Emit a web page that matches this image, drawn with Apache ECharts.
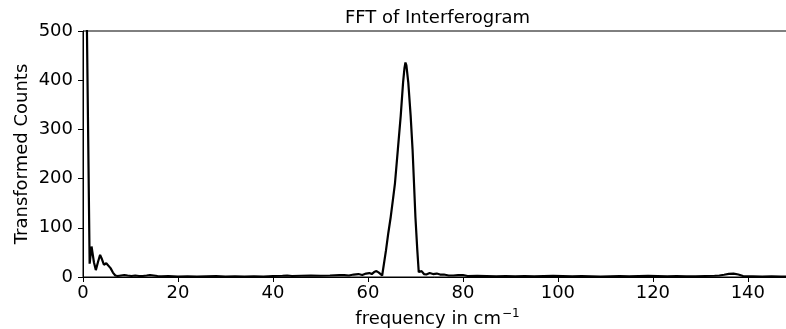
<!DOCTYPE html>
<html>
<head>
<meta charset="utf-8">
<script src="https://cdn.jsdelivr.net/npm/echarts@6/dist/echarts.min.js"></script>
<style>
html,body{margin:0;padding:0;background:#fff;}
#chart{width:786px;height:329px;}
</style>
</head>
<body>
<div id="chart"></div>
<script>
var titleText = 'FFT of Interferogram';
var xLabel = 'frequency in cm';
var yLabel = 'Transformed Counts';
var xTicks = [0, 20, 40, 60, 80, 100, 120, 140];
var yTicks = [0, 100, 200, 300, 400, 500];

var freq = [
  0.35, 1.4, 1.8, 2.3, 2.7, 3.2, 3.6, 4.0, 4.4, 4.9, 5.3, 5.8, 6.3, 6.8, 7.3,
  8.0, 8.7, 9.4, 10.2, 11.0, 11.8, 12.6, 13.4, 14.1, 14.9, 15.7, 16.5,
  18, 20, 22, 24, 26, 28, 30, 32, 34, 36, 38, 40, 42, 43, 44, 46, 48, 50, 52, 54,
  55, 56, 57, 58, 58.8, 59.6, 60.3, 60.8, 61.3, 61.8, 62.3, 62.7, 63.0, 63.2,
  63.8, 64.3, 64.8, 65.3, 65.7, 66.3, 66.9, 67.4, 67.7, 67.9, 68.1, 68.5,
  69.0, 69.4, 69.7, 70.0, 70.4, 70.7, 71.3, 71.8, 72.3, 73.0, 73.7, 74.5,
  75.2, 76, 77, 78, 79, 80, 81, 83, 85, 87, 89, 91, 93, 95, 97, 99, 101,
  103, 105, 107, 109, 111, 113, 115, 117, 119, 121, 123, 125, 127, 129,
  131, 133, 134, 135, 136, 137, 138, 139, 141, 143, 145, 147, 149.3
];
var counts = [
  900, 27, 62, 30, 14, 32, 45, 36, 25, 28, 25, 18, 9, 3, 2,
  3, 4, 3, 2, 3, 2, 2, 3, 4, 3, 2, 1.5,
  2, 1, 1.5, 1, 1.5, 2, 1, 1.5, 1, 1.5, 1, 2, 2.5, 3, 2, 2.5, 3, 2.5, 3, 4,
  4, 3, 5, 6, 4, 7, 8, 6, 10, 12, 9, 12, 3, 2,
  54, 90, 122, 160, 191, 259, 327, 395, 425, 436, 430, 395,
  327, 259, 191, 122, 54, 10, 12, 6, 5, 8, 6, 7,
  5, 5, 3, 3, 4, 4, 2, 2.5, 2, 1.5, 2, 1.5, 2, 1.5, 2, 2.5, 2,
  1.5, 2, 1.5, 1, 1.5, 2, 1.5, 2, 2.5, 2, 1.5, 2, 1.5, 1.5,
  2, 2.5, 3, 4.5, 6.5, 7, 5, 2, 1.5, 1, 1.5, 1, 1
];

var data = freq.map(function (f, i) { return [f, counts[i]]; });
var font = 'DejaVu Sans';

var chart = echarts.init(document.getElementById('chart'), null, {renderer: 'canvas'});
chart.setOption({
  animation: false,
  backgroundColor: '#fff',
  title: {
    text: titleText,
    left: 437.5,
    top: 9,
    padding: 0,
    textAlign: 'center',
    textStyle: {fontFamily: font, fontSize: 18, fontWeight: 'normal', color: '#000'}
  },
  grid: {
    left: 83, top: 31, width: 709, height: 246,
    outerBoundsMode: 'none',
    containLabel: false,
    show: true, borderColor: '#000', borderWidth: 1, backgroundColor: 'transparent'
  },
  xAxis: {
    type: 'value', min: 0, max: 149.3, interval: 20,
    name: '{a|' + xLabel + '}{b|−1}',
    nameLocation: 'middle', nameGap: 31,
    nameMoveOverlap: false,
    nameTextStyle: {
      rich: {
        a: {fontFamily: font, fontSize: 18, color: '#000'},
        b: {fontFamily: font, fontSize: 12, color: '#000', padding: [0, 0, 10, 1]}
      }
    },
    axisLine: {show: true, lineStyle: {color: '#000', width: 1}},
    axisTick: {show: true, inside: false, length: 5, lineStyle: {color: '#000'}},
    axisLabel: {
      fontFamily: font, fontSize: 18, color: '#000', margin: 7,
      formatter: function (v) { return xTicks.indexOf(v) >= 0 ? String(v) : ''; },
      showMaxLabel: false
    },
    splitLine: {show: false}
  },
  yAxis: {
    type: 'value', min: 0, max: 500, interval: 100,
    name: yLabel, nameLocation: 'middle', nameGap: 52,
    nameMoveOverlap: false,
    nameTextStyle: {fontFamily: font, fontSize: 18, color: '#000'},
    axisLine: {show: true, lineStyle: {color: '#000', width: 1}},
    axisTick: {show: true, inside: false, length: 5, lineStyle: {color: '#000'}},
    axisLabel: {
      fontFamily: font, fontSize: 18, color: '#000', margin: 10,
      formatter: function (v) { return yTicks.indexOf(v) >= 0 ? String(v) : ''; }
    },
    splitLine: {show: false}
  },
  series: [{
    type: 'line',
    data: data,
    showSymbol: false,
    symbol: 'none',
    clip: true,
    lineStyle: {color: '#000', width: 2.2},
    smooth: false
  }]
});
</script>
</body>
</html>
